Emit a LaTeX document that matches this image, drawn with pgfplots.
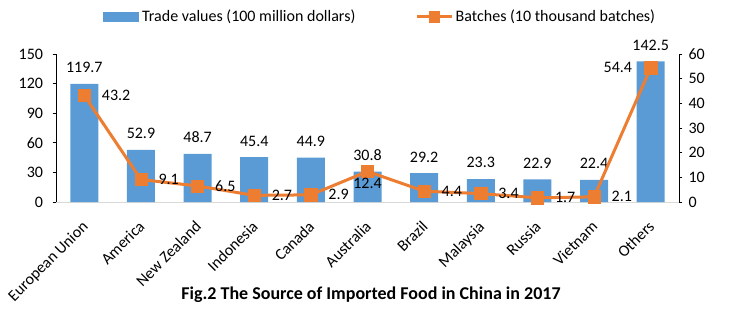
\documentclass[border=0pt]{standalone}
\usepackage{fontspec}
\setmainfont{Carlito}
\usepackage{pgfplots}
\pgfplotsset{compat=1.18}
\definecolor{barblue}{HTML}{5B9BD5}
\definecolor{lineorange}{HTML}{ED7D31}
\pgfplotsset{
  /pgf/number format/assume math mode=true,
  common/.style={
    scale only axis, width=467.25pt, height=111pt,
    xmin=-0.5, xmax=10.5,
    ymin=0,
    clip=false,
    tick align=outside,
    major tick length=2.5pt,
    tick style={black, line width=0.6pt},
    axis line style={-},
  },
}
\begin{document}
\fontsize{12}{14.4}\selectfont
\begin{tikzpicture}[font=\fontsize{12}{14.4}\selectfont]
\begin{axis}[common, name=ax,
  ymax=150, ytick={0,30,...,150},
  axis y line*=left, axis x line*=bottom,
  x axis line style={draw=black!15, line width=0.75pt},
  y axis line style={draw=black, line width=0.75pt},
  yticklabel style={xshift=-3pt},
  xtick={0,...,10},
  xticklabels={European Union, America, New Zealand, Indonesia, Canada, Australia, Brazil, Malaysia, Russia, Vietnam, Others},
  x tick style={draw=none},
  xticklabel style={xshift=-2.5pt, yshift=-5pt, rotate=45, anchor=north east},
  ybar, bar width=21pt,
  nodes near coords={\pgfmathprintnumber[fixed,fixed zerofill,precision=1]{\pgfplotspointmeta}},
  every node near coord/.append style={yshift=4pt, black},
  legend columns=2,
  legend style={at={(0.52,1.252)}, anchor=center, draw=none, fill=none,
    /tikz/every odd column/.append style={column sep=1pt},
    /tikz/every even column/.append style={column sep=44pt},
    nodes={inner sep=1pt}},
]
\addplot[fill=barblue, draw=none,
  legend image code/.code={\fill[barblue] (0pt,-3.75pt) rectangle (27pt,3.75pt);}]
  coordinates {(0,119.7)(1,52.9)(2,48.7)(3,45.4)(4,44.9)(5,30.8)(6,29.2)(7,23.3)(8,22.9)(9,22.4)(10,142.5)};
\addlegendentry{Trade values (100 million dollars)}
\addlegendimage{legend image code/.code={\draw[lineorange, line width=2.25pt] (0pt,0pt) -- (26pt,0pt); \fill[lineorange] (9pt,-4pt) rectangle (17pt,4pt);}}
\addlegendentry{Batches (10 thousand batches)}
\node[font=\fontsize{13.5}{16}\selectfont\bfseries, yshift=-69.75pt] at (rel axis cs:0.5056,0) {Fig.2 The Source of Imported Food in China in 2017};
\end{axis}
\begin{axis}[common,
  ymax=60, ytick={0,10,...,60},
  axis y line*=right, axis x line=none,
  y axis line style={draw=black, line width=0.75pt},
  yticklabel style={xshift=0.5pt},
  nodes near coords={\pgfmathprintnumber[fixed,fixed zerofill,precision=1]{\pgfplotspointmeta}},
]
\addplot[lineorange, line width=2.25pt, mark=square*, mark size=4.6pt, mark options={solid, line width=0.4pt, fill=lineorange}, nodes near coords={}]
  coordinates {(0,43.2)(1,9.1)(2,6.5)(3,2.7)(4,2.9)(5,12.4)(6,4.4)(7,3.4)(8,1.7)(9,2.1)(10,54.4)};
\addplot[draw=none, mark=none, every node near coord/.append style={anchor=west, xshift=9pt, black}]
  coordinates {(0,43.2)(1,9.1)(2,6.5)(3,2.7)(4,2.9)(6,4.4)(7,3.4)(8,1.7)(9,2.1)};
\addplot[draw=none, mark=none, every node near coord/.append style={anchor=north, yshift=-1pt, black}]
  coordinates {(5,12.4)};
\addplot[draw=none, mark=none, every node near coord/.append style={anchor=east, xshift=-9.8pt, black}]
  coordinates {(10,54.4)};
\end{axis}
\pgfresetboundingbox
\path[use as bounding box] ([shift={(-42pt,-90pt)}]ax.south west) rectangle ([shift={(513.75pt,151.5pt)}]ax.south west);
\end{tikzpicture}
\end{document}
